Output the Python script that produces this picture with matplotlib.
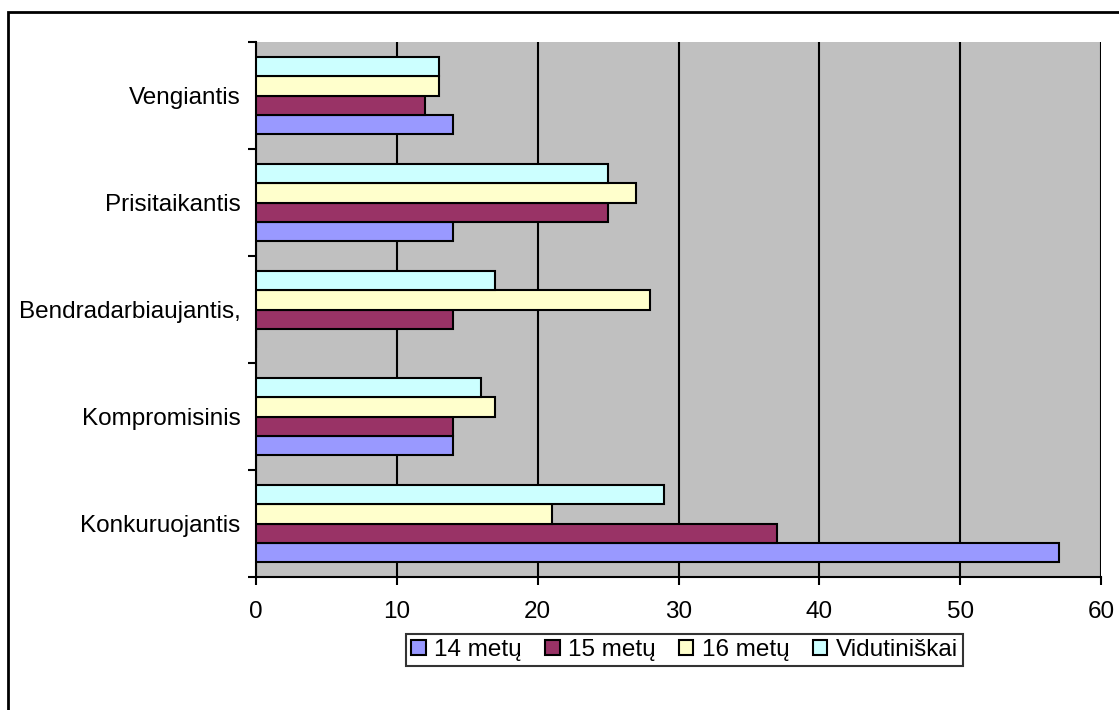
import matplotlib
matplotlib.use("Agg")
import matplotlib.pyplot as plt
import numpy as np
from matplotlib.patches import Rectangle

plt.rcParams['font.family'] = ['Liberation Sans', 'DejaVu Sans']

categories = ["Konkuruojantis", "Kompromisinis", "Bendradarbiaujantis,", "Prisitaikantis", "Vengiantis"]
series_names = ["14 metų", "15 metų", "16 metų", "Vidutiniškai"]
v14 = [57, 14, 0, 14, 14]
v15 = [37, 14, 14, 25, 12]
v16 = [21, 17, 28, 27, 13]
vavg = [29, 16, 17, 25, 13]
x_ticks = [0, 10, 20, 30, 40, 50, 60]

colors = ["#9999FF", "#993366", "#FFFFCC", "#CCFFFF"]
series = [v14, v15, v16, vavg]
FS = 17.5

fig = plt.figure(figsize=(11.19, 7.10), dpi=100)
ax = fig.add_axes([256/1119, 1-577/710, (1101-256)/1119, (577-42)/710])
ax.set_facecolor("#C0C0C0")

y = np.arange(len(categories))
h = 0.182
offsets = [-1.5*h, -0.5*h, 0.5*h, 1.5*h]
for vals, c, off, name in zip(series, colors, offsets, series_names):
    ax.barh(y + off, vals, height=h, color=c, edgecolor="black", linewidth=1.5,
            label=name, zorder=3)

ax.set_xlim(0, 60)
ax.set_ylim(-0.5, len(categories) - 0.5)
ax.set_xticks(x_ticks)
ax.set_xticklabels([str(t) for t in x_ticks], fontsize=FS)
ax.xaxis.grid(True, color="black", linewidth=1.5, zorder=1)
ax.set_axisbelow(True)

ax.set_yticks(y)
ax.set_yticklabels(categories, fontsize=FS)
ax.tick_params(axis='y', which='major', length=0, pad=11)
ax.set_yticks(np.arange(-0.5, len(categories), 1.0), minor=True)
ax.tick_params(axis='y', which='minor', length=6, width=1.5, direction='out')
ax.tick_params(axis='x', length=6, width=1.5, direction='out', pad=11)

for s in ['top', 'right']:
    ax.spines[s].set_visible(False)
for s in ['left', 'bottom']:
    ax.spines[s].set_linewidth(1.5)

leg = fig.legend(loc='center', bbox_to_anchor=(684.5/1119, 1-650/710), ncol=4,
                 fontsize=FS, frameon=True, fancybox=False, edgecolor='black',
                 handlelength=0.6, handleheight=0.6, handletextpad=0.35,
                 columnspacing=0.95, borderpad=0.2)
leg.get_frame().set_linewidth(1.5)

fig.patches.append(Rectangle((8/1119, -0.1), 1.2, 1-12/710+0.1, transform=fig.transFigure,
                             fill=False, edgecolor='black', linewidth=2))

fig.savefig("out.png", dpi=100)
